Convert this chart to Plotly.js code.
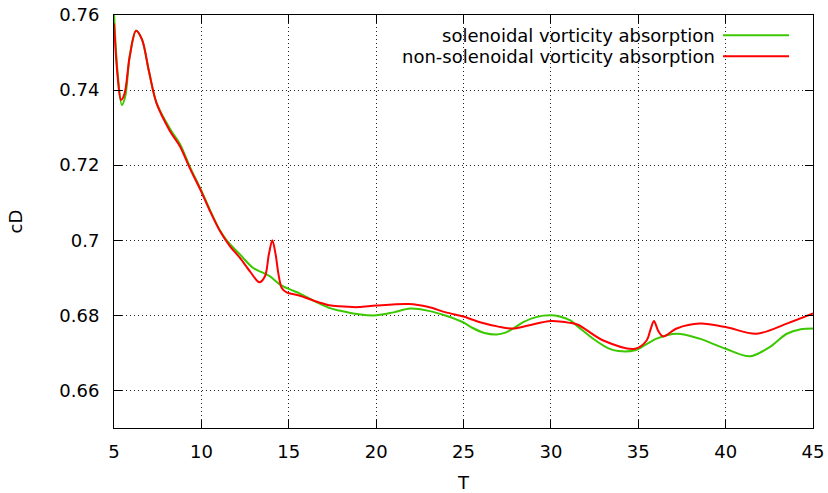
<!DOCTYPE html>
<html>
<head>
<meta charset="utf-8">
<script src="https://cdn.plot.ly/plotly-3.0.1.min.js"></script>
<style>html,body{margin:0;padding:0;background:#fff;}#chart{width:828px;height:493px;}</style>
</head>
<body>
<div id="chart"></div>
<script>
// Solenoidal vorticity absorption (green)
const tSol = [5, 5.2, 5.45, 5.65, 5.9, 6.26, 6.6, 7.0, 7.43, 8.19, 8.78, 9.33, 10.02, 10.47, 11.04, 11.45, 12.21, 12.97, 13.55, 13.93, 14.5, 15.07, 15.64, 16.5, 17.3, 17.88, 19, 20, 21.0, 21.96, 23, 24, 25, 25.5, 26.2, 26.9, 27.4, 27.85, 28.42, 29.2, 30, 30.5, 31.09, 31.55, 32.5, 33.3, 33.86, 34.81, 35.5, 36.05, 37.2, 38.5, 40, 41.39, 42.5, 43.5, 44.3, 45];
const cdSol = [0.7605, 0.745, 0.736, 0.7385, 0.749, 0.7558, 0.7535, 0.745, 0.7366, 0.7298, 0.7256, 0.7197, 0.713, 0.7083, 0.7028, 0.700, 0.6962, 0.6926, 0.6913, 0.6904, 0.6882, 0.6869, 0.6858, 0.6837, 0.682, 0.6813, 0.6803, 0.680, 0.6808, 0.6818, 0.6812, 0.6799, 0.6781, 0.6767, 0.6753, 0.6749, 0.6754, 0.6765, 0.6782, 0.6796, 0.680, 0.6797, 0.6787, 0.677, 0.6735, 0.6712, 0.6705, 0.6707, 0.6724, 0.6738, 0.6751, 0.6738, 0.6711, 0.6691, 0.6715, 0.6751, 0.6763, 0.6765];

// Non-solenoidal vorticity absorption (red)
const tNon = [5, 5.2, 5.4, 5.6, 5.9, 6.26, 6.6, 7.0, 7.43, 8.19, 8.78, 9.33, 10.02, 10.47, 11.07, 11.64, 12.21, 12.78, 13.32, 13.64, 13.86, 14.06, 14.25, 14.4, 14.6, 14.88, 15.6, 16.5, 17.31, 17.88, 19, 20, 21.87, 23, 24, 25, 25.37, 26, 27, 27.85, 28.7, 30, 31.09, 31.55, 33.0, 34.81, 35.48, 35.7, 35.9, 36.15, 36.43, 37.2, 38.53, 40, 41.77, 43.5, 45];
const cdNon = [0.7578, 0.744, 0.7374, 0.739, 0.749, 0.7558, 0.7535, 0.745, 0.7366, 0.7292, 0.725, 0.7193, 0.7127, 0.708, 0.7024, 0.6984, 0.6953, 0.6917, 0.6888, 0.6904, 0.6962, 0.700, 0.6962, 0.6913, 0.6873, 0.6861, 0.6853, 0.6838, 0.6827, 0.6824, 0.6822, 0.6826, 0.683, 0.6822, 0.6808, 0.6797, 0.6791, 0.6781, 0.677, 0.6765, 0.6773, 0.6785, 0.678, 0.6775, 0.6733, 0.6711, 0.6733, 0.6762, 0.6785, 0.6758, 0.6744, 0.6765, 0.6778, 0.6769, 0.6751, 0.6778, 0.6805];

const seriesNames = ["solenoidal vorticity absorption", "non-solenoidal vorticity absorption"];
const xTicks = [5, 10, 15, 20, 25, 30, 35, 40, 45];
const yTicks = [0.66, 0.68, 0.70, 0.72, 0.74, 0.76];
const yTickText = ["0.66", "0.68", "0.7", "0.72", "0.74", "0.76"];

const green = "#3cc800";
const red = "#ff0000";
const FONT = "DejaVu Sans, sans-serif";
const FS = 18;

const traces = [
  {x: tSol, y: cdSol, name: seriesNames[0], type: "scatter", mode: "lines",
   line: {color: green, width: 2, shape: "spline", smoothing: 0.9}, showlegend: false},
  {x: tNon, y: cdNon, name: seriesNames[1], type: "scatter", mode: "lines",
   line: {color: red, width: 2, shape: "spline", smoothing: 0.9}, showlegend: false}
];

const axisCommon = {
  showline: true, linecolor: "#000", linewidth: 1, mirror: "ticks",
  ticks: "inside", ticklen: 8, tickcolor: "#000", tickwidth: 1,
  showgrid: true, gridcolor: "#222", griddash: "1px,3px", gridwidth: 1,
  zeroline: false, tickfont: {family: FONT, size: FS, color: "#000"}
};

const layout = {
  width: 828, height: 493,
  margin: {l: 114, r: 15, t: 15, b: 65},
  paper_bgcolor: "#fff", plot_bgcolor: "#fff",
  font: {family: FONT, size: FS, color: "#000"},
  xaxis: Object.assign({}, axisCommon, {
    range: [5, 45], tickvals: xTicks, ticktext: xTicks.map(String),
    ticklabelstandoff: 7,
    title: {text: "T", font: {family: FONT, size: FS}, standoff: 16}
  }),
  yaxis: Object.assign({}, axisCommon, {
    range: [0.65, 0.76], tickvals: yTicks, ticktext: yTickText,
    ticklabelstandoff: 10,
    title: {text: "cD", font: {family: FONT, size: FS}, standoff: 32}
  }),
  annotations: [
    {xref: "paper", yref: "paper", x: 0.8627, y: 0.951, xanchor: "right", yanchor: "middle",
     text: seriesNames[0], showarrow: false, font: {family: FONT, size: FS, color: "#000"}},
    {xref: "paper", yref: "paper", x: 0.8627, y: 0.9, xanchor: "right", yanchor: "middle",
     text: seriesNames[1], showarrow: false, font: {family: FONT, size: FS, color: "#000"}}
  ],
  shapes: [
    {type: "line", xref: "paper", yref: "paper", x0: 0.8712, x1: 0.9657, y0: 0.951, y1: 0.951,
     line: {color: green, width: 2}},
    {type: "line", xref: "paper", yref: "paper", x0: 0.8712, x1: 0.9657, y0: 0.9, y1: 0.9,
     line: {color: red, width: 2}}
  ]
};

Plotly.newPlot("chart", traces, layout, {displayModeBar: false, staticPlot: true});
</script>
</body>
</html>
